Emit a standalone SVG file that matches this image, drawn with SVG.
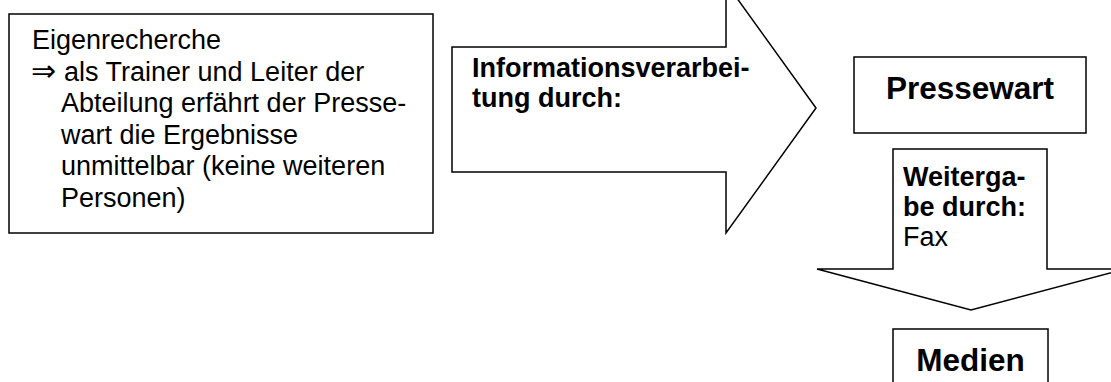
<svg xmlns="http://www.w3.org/2000/svg" width="1111" height="382" viewBox="0 0 1111 382">
  <style>
    .shape { fill: #ffffff; stroke: #000000; stroke-width: 1.5; stroke-linejoin: miter; }
    .txt { font-family: "Liberation Sans", Arial, "DejaVu Sans", sans-serif; font-size: 27px; fill: #000000; }
    .bold { font-weight: bold; }
    .big { font-family: "Liberation Sans", Arial, sans-serif; font-size: 31.5px; font-weight: bold; fill: #000000; text-anchor: middle; }
    .sym { font-family: "DejaVu Sans", sans-serif; font-size: 30px; font-weight: 200; fill: #000000; }
  </style>
  <rect width="1111" height="382" fill="#ffffff"/>

  <!-- source: own research -->
  <g id="eigenrecherche">
    <rect class="shape" x="9" y="14" width="424" height="219"/>
    <text class="txt" x="32" y="49">Eigenrecherche</text>
    <text class="sym" x="31" y="81">⇒</text>
    <text class="txt" x="64" y="80.5">als Trainer und Leiter der</text>
    <text class="txt" x="61" y="112">Abteilung erfährt der Presse-</text>
    <text class="txt" x="61" y="143.5">wart die Ergebnisse</text>
    <text class="txt" x="61" y="175">unmittelbar (keine weiteren</text>
    <text class="txt" x="61" y="206.5">Personen)</text>
  </g>

  <g id="pressewart">
    <rect class="shape" x="854" y="57" width="232" height="76"/>
    <text class="big" x="970" y="99">Pressewart</text>
  </g>

  <g id="medien">
    <rect class="shape" x="893" y="329" width="155" height="80"/>
    <text class="big" x="970.5" y="371">Medien</text>
  </g>

  <!-- block arrows linking the nodes -->
  <g id="connectors">
    <g id="arrow-verarbeitung">
      <polygon class="shape" points="452,47 726,47 726,-17 816,108 726,233 726,172 452,172"/>
      <text class="txt bold" x="472" y="77">Informationsverarbei-</text>
      <text class="txt bold" x="472" y="107">tung durch:</text>
    </g>
    <g id="arrow-weitergabe">
      <polygon class="shape" points="893,149 1047,149 1047,269 1125,269 971,310 817,269 893,269"/>
      <text class="txt bold" x="903" y="186">Weiterga-</text>
      <text class="txt bold" x="903" y="216">be durch:</text>
      <text class="txt" x="903" y="246">Fax</text>
    </g>
  </g>
</svg>
